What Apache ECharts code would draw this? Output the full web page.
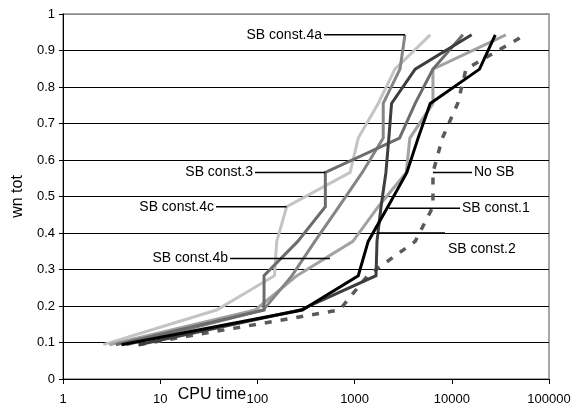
<!DOCTYPE html>
<html>
<head>
<meta charset="utf-8">
<script src="https://cdn.jsdelivr.net/npm/echarts@6/dist/echarts.min.js"></script>
<style>
  html, body { margin: 0; padding: 0; background: #fff; }
  #chart { width: 579px; height: 411px; }
</style>
</head>
<body>
<div id="chart"></div>
<script>
// Fraction of instances solved (shared y levels)
const yLevels = [0.094, 0.189, 0.283, 0.377, 0.472, 0.566, 0.660, 0.755, 0.849, 0.943];

// CPU time at each level, per run
const noSB    = [6, 700, 1360, 4200, 6400, 6400, 8000, 11500, 14000, 57000];
const const1  = [4, 290, 1090, 1380, 2200, 3450, 4500, 6000, 19300, 28000];
const const2  = [6, 275, 1660, 1700, 1870, 2100, 2250, 2400, 4200, 16000];
const const3  = [3.5, 117, 117, 260, 500, 500, 2900, 4200, 6400, 13000];
const const4a = [4.5, 115, 227, 390, 690, 1200, 1970, 1970, 2930, 3300];
const const4b = [3, 95, 255, 960, 1750, 3400, 3700, 6400, 6400, 36000];
const const4c = [2.6, 38, 150, 158, 200, 900, 1090, 1750, 2600, 6000];

const yTicks = [0, 0.1, 0.2, 0.3, 0.4, 0.5, 0.6, 0.7, 0.8, 0.9, 1];

const FONT = 'Liberation Sans, Arial, sans-serif';

function pairs(xs) {
  return xs.map((x, i) => [x, yLevels[i]]);
}

function lineSeries(name, xs, color, dashed) {
  return {
    name: name,
    type: 'line',
    data: pairs(xs),
    symbol: 'none',
    lineStyle: {
      color: color,
      width: dashed ? 3.5 : 3,
      type: dashed ? [7, 9] : 'solid',
      cap: 'butt',
      join: 'miter'
    },
    z: 3
  };
}

const chart = echarts.init(document.getElementById('chart'));

chart.setOption({
  animation: false,
  backgroundColor: '#fff',
  grid: {
    left: 63,
    right: 30,
    top: 14,
    bottom: 32,
    show: true,
    borderColor: '#8a8a8a',
    borderWidth: 1.5
  },
  xAxis: {
    type: 'log',
    logBase: 10,
    min: 1,
    max: 100000,
    axisLine: { show: true, onZero: false, lineStyle: { color: '#000', width: 1 } },
    axisTick: { show: true, inside: false, length: 5, lineStyle: { color: '#000' } },
    minorTick: { show: false },
    splitLine: { show: false },
    axisLabel: {
      color: '#000',
      fontFamily: FONT,
      fontSize: 13,
      margin: 14,
      formatter: v => String(Math.round(v))
    }
  },
  yAxis: {
    type: 'value',
    min: 0,
    max: 1,
    interval: 0.1,
    name: 'wn tot',
    nameLocation: 'middle',
    nameGap: 34,
    nameRotate: 90,
    nameTextStyle: { color: '#000', fontFamily: FONT, fontSize: 16 },
    axisLine: { show: true, lineStyle: { color: '#000', width: 1 } },
    axisTick: { show: true, inside: false, length: 4, lineStyle: { color: '#000' } },
    splitLine: {
      show: true,
      lineStyle: {
        color: yTicks.map((t, i) => (i === yTicks.length - 1 ? '#8a8a8a' : '#000')),
        width: 1
      }
    },
    axisLabel: {
      color: '#000',
      fontFamily: FONT,
      fontSize: 13,
      margin: 8,
      formatter: v => String(Math.round(v * 10) / 10)
    }
  },
  series: [
    lineSeries('SB const.4c', const4c, '#c4c4c4', false),
    lineSeries('SB const.4b', const4b, '#a2a2a2', false),
    lineSeries('SB const.4a', const4a, '#858585', false),
    lineSeries('SB const.3', const3, '#6c6c6c', false),
    lineSeries('No SB', noSB, '#5a5a5a', true),
    lineSeries('SB const.2', const2, '#3e3e3e', false),
    lineSeries('SB const.1', const1, '#000000', false)
  ]
});

// Leader-line annotations: anchor in data coords, label end in pixels
const notes = [
  { text: 'SB const.4a', at: [3300, 0.943], side: 'left', end: 324 },
  { text: 'SB const.3', at: [500, 0.566], side: 'left', end: 255 },
  { text: 'SB const.4c', at: [200, 0.472], side: 'left', end: 216 },
  { text: 'SB const.4b', at: [558, 0.33], side: 'left', end: 230 },
  { text: 'No SB', at: [6400, 0.566], side: 'right', end: 472 },
  { text: 'SB const.1', at: [2250, 0.468], side: 'right', end: 460 },
  { text: 'SB const.2', at: [1700, 0.40], side: 'below', end: 445 }
];

const graphics = [];
notes.forEach(n => {
  const p = chart.convertToPixel({ gridIndex: 0 }, n.at);
  graphics.push({
    type: 'line',
    shape: { x1: p[0], y1: p[1], x2: n.end, y2: p[1] },
    style: { stroke: '#000', lineWidth: 1.5 },
    z: 10
  });
  let tx, ty, align;
  if (n.side === 'left') { tx = n.end - 2; ty = p[1]; align = 'right'; }
  else if (n.side === 'right') { tx = n.end + 2; ty = p[1]; align = 'left'; }
  else { tx = n.end + 3; ty = p[1] + 16; align = 'left'; }
  graphics.push({
    type: 'text',
    x: tx,
    y: ty,
    style: {
      text: n.text,
      fill: '#000',
      font: '14px ' + FONT,
      textAlign: align,
      textVerticalAlign: 'middle'
    },
    z: 11
  });
});

// x axis title sits left of centre in the original
graphics.push({
  type: 'text',
  x: 212,
  y: 395,
  style: {
    text: 'CPU time',
    fill: '#000',
    font: '16px ' + FONT,
    textAlign: 'center',
    textVerticalAlign: 'middle'
  },
  z: 12
});

chart.setOption({ graphic: graphics });
</script>
</body>
</html>
